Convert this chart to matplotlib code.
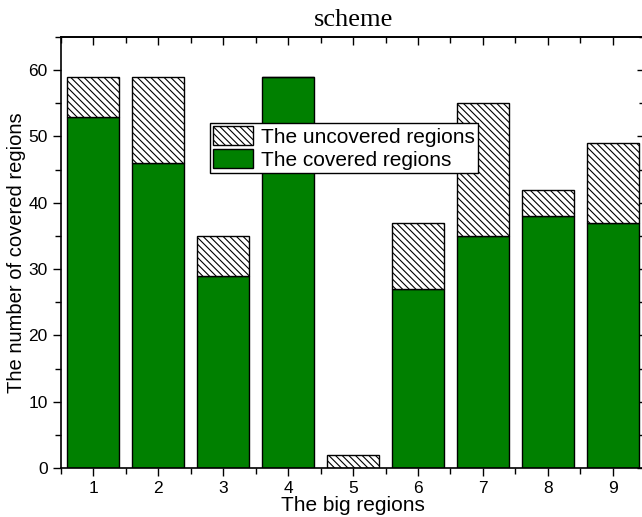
import numpy as np
import matplotlib
matplotlib.use("Agg")
import matplotlib.pyplot as plt
from matplotlib.ticker import MultipleLocator

regions = [1, 2, 3, 4, 5, 6, 7, 8, 9]
covered = [53, 46, 29, 59, 0, 27, 35, 38, 37]
total = [59, 59, 35, 59, 2, 37, 55, 42, 49]
uncovered = [t - c for t, c in zip(total, covered)]

plt.rcParams['font.family'] = ['Liberation Sans', 'DejaVu Sans']
plt.rcParams['hatch.linewidth'] = 0.8

fig = plt.figure(figsize=[6.42, 5.17], dpi=100)
ax = fig.add_axes([0.095, 0.0948, 0.91, 0.8336])

ax.bar(regions, covered, width=0.8, color='#008000', edgecolor='black',
       linewidth=1, label='The covered regions')
ax.bar(regions, uncovered, width=0.8, bottom=covered, color='white',
       edgecolor='black', hatch='\\\\\\\\\\', linewidth=1,
       label='The uncovered regions')

ax.set_xlim(0.5, 9.5)
ax.set_ylim(0, 65)

ax.xaxis.set_major_locator(MultipleLocator(1))
ax.xaxis.set_minor_locator(MultipleLocator(0.5))
ax.yaxis.set_major_locator(MultipleLocator(10))
ax.yaxis.set_minor_locator(MultipleLocator(5))
ax.tick_params(which='major', length=6, width=1)
ax.tick_params(which='minor', length=4, width=1)
ax.tick_params(which='both', direction='out', labelsize=12.5)

# top and right: ticks pointing inward, no labels
top = ax.secondary_xaxis('top')
top.xaxis.set_major_locator(MultipleLocator(1))
top.xaxis.set_minor_locator(MultipleLocator(0.5))
top.tick_params(which='major', length=6, width=1, direction='in', labeltop=False)
top.tick_params(which='minor', length=4, width=1, direction='in')
right = ax.secondary_yaxis('right')
right.yaxis.set_major_locator(MultipleLocator(10))
right.yaxis.set_minor_locator(MultipleLocator(5))
right.tick_params(which='major', length=6, width=1, direction='in', labelright=False)
right.tick_params(which='minor', length=4, width=1, direction='in')

for s in ax.spines.values():
    s.set_linewidth(1.2)
top.spines['top'].set_linewidth(1.2)
right.spines['right'].set_linewidth(1.2)

ax.set_xlabel('The big regions', fontsize=15, labelpad=0)
ax.set_ylabel('The number of covered regions', fontsize=14.5, labelpad=2)
ax.set_title('scheme', fontsize=19, family='Liberation Serif', pad=8)

h, l = ax.get_legend_handles_labels()
ax.legend(h[::-1], l[::-1], loc='upper left', bbox_to_anchor=(0.255, 0.8),
          fontsize=15, fancybox=False, framealpha=1, edgecolor='black',
          borderpad=0.15, handlelength=1.9, handleheight=1.0,
          handletextpad=0.4, labelspacing=0.12, borderaxespad=0)

fig.savefig('out.png', dpi=100)
